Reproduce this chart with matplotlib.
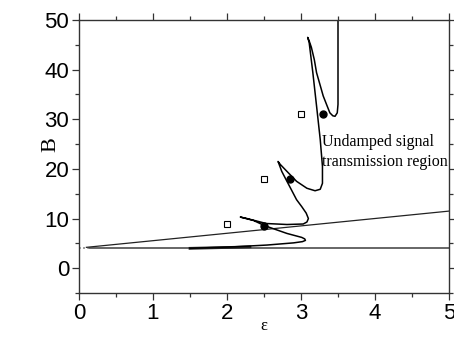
import matplotlib
matplotlib.use("Agg")
import matplotlib.pyplot as plt

# --- data ---
curve_eps = [1.50, 2.09, 2.54, 2.90, 3.02, 3.06, 3.05, 3.01, 2.81, 2.51, 2.36, 2.18,
             2.27, 2.53, 2.81, 3.03, 3.08, 3.10, 3.07, 3.01, 2.94, 2.87, 2.81,
             2.74, 2.69, 2.72, 2.81, 2.94, 3.08, 3.19, 3.26, 3.29, 3.29, 3.26,
             3.21, 3.16, 3.11, 3.09, 3.11, 3.14, 3.18, 3.21, 3.26, 3.30, 3.35,
             3.39, 3.43, 3.46, 3.49, 3.50, 3.50]
curve_B = [4.0, 4.3, 4.66, 5.1, 5.35, 5.6, 5.9, 6.2, 7.0, 8.56, 9.6, 10.3,
           10.0, 9.0, 8.8, 8.9, 9.3, 10.0, 11.1, 12.4, 13.8, 15.8, 17.5,
           19.5, 21.5, 20.9, 19.5, 17.5, 16.1, 15.6, 15.9, 17.1, 20.5, 25.9,
           32.7, 39.4, 45.5, 46.5, 45.8, 44.5, 42.0, 39.4, 36.8, 34.7, 32.8,
           31.3, 30.7, 30.6, 31.3, 33.0, 50.0]

thick_eps = [1.50, 2.09, 2.31]
thick_B = [4.0, 4.2, 4.3]

hline_eps = [0.15, 5.0]
hline_B = [4.0, 4.0]
hdot_eps = [0.0, 0.15]
hdot_B = [4.0, 4.0]

slope_eps = [0.10, 5.0]
slope_B = [4.2, 11.5]

square_eps = [2.0, 2.5, 3.0]
square_B = [9.0, 18.0, 31.0]
dot_eps = [2.5, 2.85, 3.3]
dot_B = [8.5, 18.0, 31.0]

xticks = [0, 1, 2, 3, 4, 5]
yticks = [0, 10, 20, 30, 40, 50]

fig = plt.figure(figsize=(4.54, 3.38), dpi=100)
ax = fig.add_axes([79/454, 1-293/338, (449-79)/454, (293-20)/338])

ax.plot(hdot_eps, hdot_B, color="#777777", lw=1.2, ls=(0, (1, 1.5)))
ax.plot(hline_eps, hline_B, color="#666666", lw=1.4)
ax.plot(slope_eps, slope_B, color="#222222", lw=0.9)
ax.plot(thick_eps, thick_B, color="#222222", lw=2.0)
ax.plot(curve_eps, curve_B, color="black", lw=1.1)
ax.plot(square_eps, square_B, ls="none", marker="s", ms=5, mfc="white",
        mec="black", mew=0.8)
ax.plot(dot_eps, dot_B, ls="none", marker="o", ms=5, color="black")

ax.text(3.28, 23.4, "Undamped signal\ntransmission region", family="Liberation Serif",
        fontsize=11.5, va="center", ha="left", linespacing=1.4)

ax.set_xlim(0, 5)
ax.set_ylim(-5, 50)
ax.set_xticks(xticks)
ax.set_yticks(yticks)
ax.set_xticks([0.5, 1.5, 2.5, 3.5, 4.5], minor=True)
ax.set_yticks([-5, 5, 15, 25, 35, 45], minor=True)
ax.tick_params(which="both", direction="out", top=True, right=True,
               labeltop=False, labelright=False, width=0.9, color="#333333")
ax.tick_params(which="major", length=5)
ax.tick_params(which="minor", length=3)
for lab in ax.get_xticklabels() + ax.get_yticklabels():
    lab.set_family("Liberation Sans")
    lab.set_fontsize(16)
ax.tick_params(axis="x", pad=2)
ax.tick_params(axis="y", pad=2)
for s in ax.spines.values():
    s.set_linewidth(1.0)
    s.set_color("#333333")

ax.set_xlabel("ε", family="Liberation Serif", fontsize=12)
ax.xaxis.set_label_coords(0.5, -0.093)
ax.set_ylabel("B", family="Liberation Serif", fontsize=16)
ax.yaxis.set_label_coords(-0.05, 0.542)

fig.savefig("out.png", dpi=100)
